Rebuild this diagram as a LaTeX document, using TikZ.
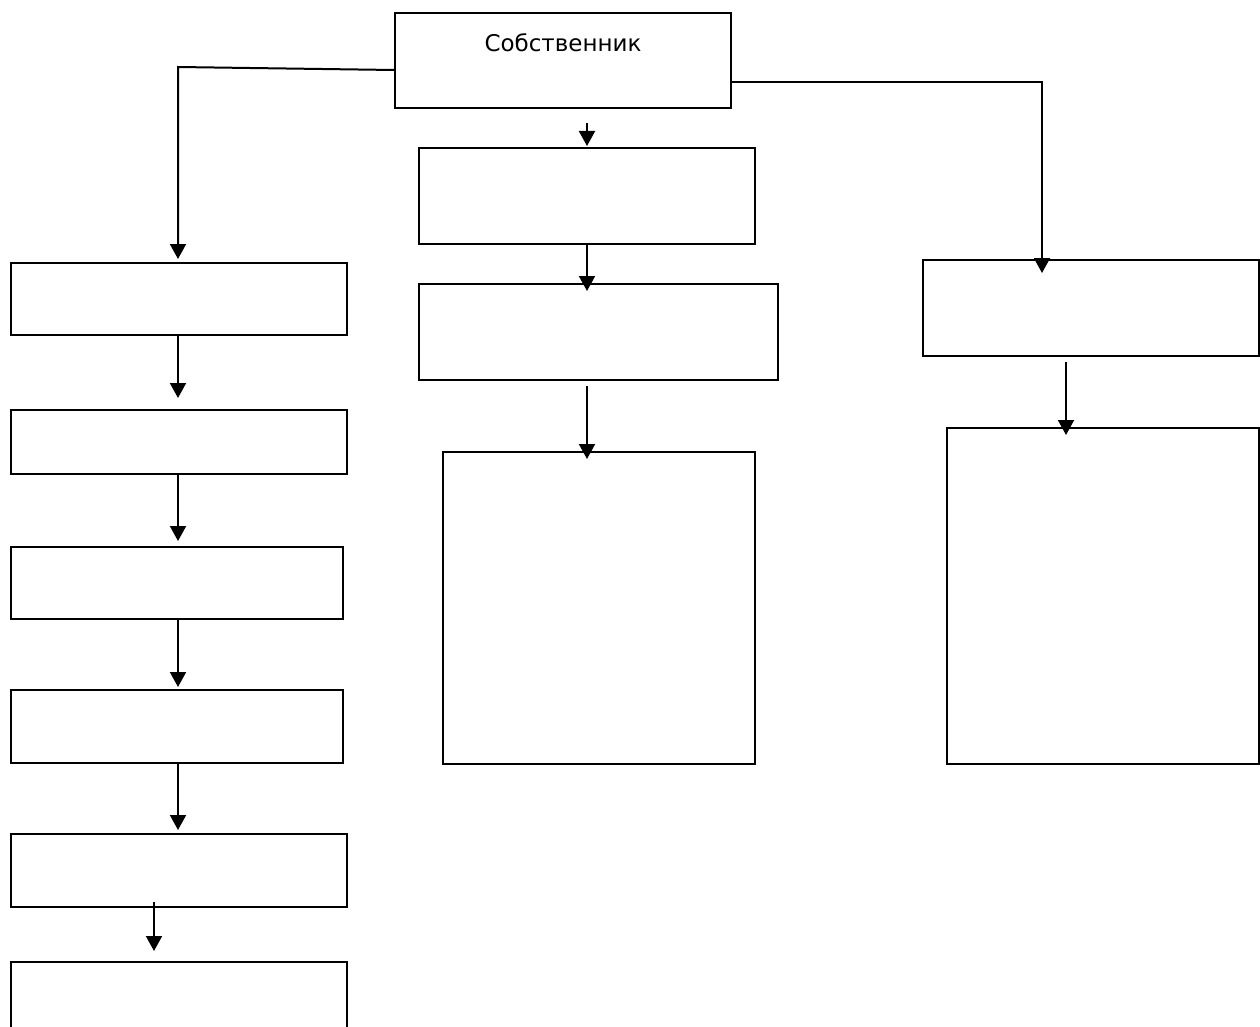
\documentclass[tikz,border=0pt]{standalone}
\usepackage{fontspec}
\setmainfont{DejaVu Sans}
\usetikzlibrary{arrows.meta}
\begin{document}
\begin{tikzpicture}[x=1pt,y=-1pt,
  box/.style={draw, line width=2pt, inner sep=0pt, anchor=north west},
  arr/.style={line width=2pt, -{Triangle[width=16pt,length=15pt]}},
  con/.style={line width=2pt}]
\useasboundingbox[fill=white] (0,0) rectangle (1260,1027);
% top
\node[box, minimum width=336pt, minimum height=95pt] (top) at (394,12) {};
\node[font=\fontsize{23}{26}\selectfont, inner sep=0pt] (toplbl) at (563,43) {Собственник};
% middle column
\node[box, minimum width=336pt, minimum height=96pt] (m1) at (418,147) {};
\node[box, minimum width=359pt, minimum height=96pt] (m2) at (418,283) {};
\node[box, minimum width=312pt, minimum height=312pt] (m3) at (442,451) {};
% right column
\node[box, minimum width=336pt, minimum height=96pt] (r1) at (922,259) {};
\node[box, minimum width=312pt, minimum height=336pt] (r2) at (946,427) {};
% left column
\node[box, minimum width=336pt, minimum height=72pt] (l1) at (10,262) {};
\node[box, minimum width=336pt, minimum height=64pt] (l2) at (10,409) {};
\node[box, minimum width=332pt, minimum height=72pt] (l3) at (10,546) {};
\node[box, minimum width=332pt, minimum height=73pt] (l4) at (10,689) {};
\node[box, minimum width=336pt, minimum height=73pt] (l5) at (10,833) {};
\node[box, minimum width=336pt, minimum height=80pt] (l6) at (10,961) {};
% coordinates
\coordinate (tl) at (top.west |- 0,70);
\coordinate (tlb) at (178,67);
\coordinate (l1t) at (178,259);
\coordinate (tr) at (top.east |- 0,82);
\coordinate (trb) at (1042,82);
\coordinate (r1t) at (1042,273);
\coordinate (m0a) at (587,123);
\coordinate (m1t) at (587,146);
\coordinate (m1b) at (587,243);
\coordinate (m2t) at (587,291);
\coordinate (m2b) at (587,386);
\coordinate (m3t) at (587,459);
\coordinate (r1b) at (1066,362);
\coordinate (r2t) at (1066,435);
\coordinate (l1b) at (178,334);
\coordinate (l2t) at (178,398);
\coordinate (l2b) at (178,473);
\coordinate (l3t) at (178,541);
\coordinate (l3b) at (178,618);
\coordinate (l4t) at (178,687);
\coordinate (l4b) at (178,762);
\coordinate (l5t) at (178,830);
\coordinate (l5b) at (154,902);
\coordinate (l6t) at (154,951);
% connectors
\draw[arr] (tl) -- (tlb) -- (l1t);
\draw[arr] (tr) -- (trb) -- (r1t);
\draw[arr] (m0a) -- (m1t);
\draw[arr] (m1b) -- (m2t);
\draw[arr] (m2b) -- (m3t);
\draw[arr] (r1b) -- (r2t);
\draw[arr] (l1b) -- (l2t);
\draw[arr] (l2b) -- (l3t);
\draw[arr] (l3b) -- (l4t);
\draw[arr] (l4b) -- (l5t);
\draw[arr] (l5b) -- (l6t);
\end{tikzpicture}
\end{document}
